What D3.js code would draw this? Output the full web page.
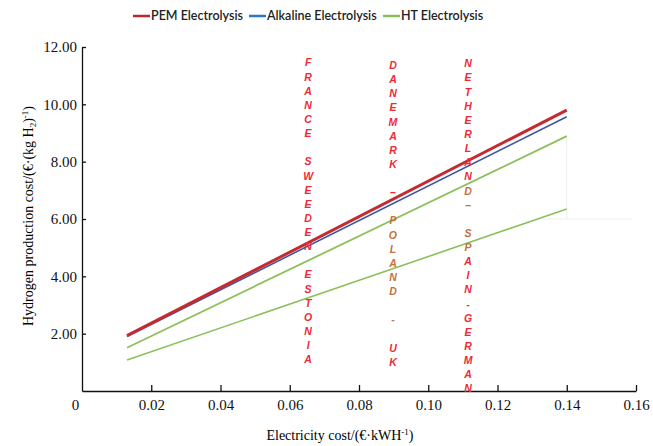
<!DOCTYPE html>
<html>
<head>
<meta charset="utf-8">
<script src="https://cdn.jsdelivr.net/npm/d3@7/dist/d3.min.js"></script>
<style>
body { margin: 0; background: #fff; }
.axis path, .axis line { stroke: #111; stroke-width: 1.3; }
.legend text { font-family: Lato, "Noto Sans", sans-serif; font-size: 12.5px; font-weight: 600; fill: #222; }
.country { font-family: "Liberation Sans", Arial, sans-serif; font-size: 10.5px; font-weight: bold; font-style: italic; }
</style>
</head>
<body>
<svg class="chart"></svg>
<script>
// series names + values
var seriesNames = ["PEM Electrolysis", "Alkaline Electrolysis", "HT Electrolysis"];
var elecCost = [0.013, 0.14];
var pemCost = [1.93, 9.80];
var alkCost = [1.90, 9.57];
var htCostHigh = [1.51, 8.89];
var htCostLow = [1.08, 6.35];

var xTicks = [0, 0.02, 0.04, 0.06, 0.08, 0.10, 0.12, 0.14, 0.16];
var yTicks = [2, 4, 6, 8, 10, 12];

// vertical country labels (x in electricity cost, top in cost units)
var countryX = [0.0653, 0.0898, 0.1115];
var countryTop = [11.46, 11.37, 11.43];
var countryText = ["FRANCE SWEEDEN ESTONIA", "DANEMARK – POLAND - UK", "NETHERLAND– SPAIN-GERMAN"];
var countryTone = ["rrrrrrrrrrrrrrrrrrrrrr", "rrrrrrrrrrrbbbbbbrbrrr", "rrrrrrrrrbbrbbrrrrrrrrrr"];

var width = 653, height = 446;
var letterStep = 14.13;
var serif = "'Liberation Serif', 'Times New Roman', serif";

var chart = d3.select(".chart")
    .attr("width", width)
    .attr("height", height);

var x = d3.scaleLinear().domain([0, 0.16]).range([82, 636]);
var y = d3.scaleLinear().domain([0, 12]).range([391, 47]);

// faint leftover guide lines seen in the original
var g0 = chart.append("g").attr("stroke", "#eeeeee").attr("stroke-width", 1);
g0.append("line").attr("x1", x(0.133)).attr("x2", x(0.159)).attr("y1", y(6)).attr("y2", y(6));
g0.append("line").attr("x1", x(0.14)).attr("x2", x(0.14)).attr("y1", y(6)).attr("y2", y(htCostHigh[1]));

// axes
var xAxis = d3.axisBottom(x)
    .tickValues(xTicks)
    .tickSizeInner(-6)
    .tickSizeOuter(0)
    .tickPadding(8)
    .tickFormat(function(d) { return d === 0 ? "0" : d.toFixed(2); });

var yAxis = d3.axisLeft(y)
    .tickValues(yTicks)
    .tickSizeInner(-4)
    .tickSizeOuter(0)
    .tickPadding(5)
    .tickFormat(function(d) { return d.toFixed(2); });

var gx = chart.append("g")
    .attr("class", "axis")
    .attr("transform", "translate(0," + y(0) + ")")
    .call(xAxis)
    .attr("font-family", serif)
    .attr("font-size", 15);
gx.selectAll(".tick").filter(function(d) { return d === 0; })
    .select("text").attr("x", -7);
gx.selectAll(".tick").filter(function(d) { return d === 0; })
    .select("line").remove();

var gy = chart.append("g")
    .attr("class", "axis")
    .attr("transform", "translate(" + x(0) + ",0)")
    .call(yAxis)
    .attr("font-family", serif)
    .attr("font-size", 15);

chart.selectAll(".tick text")
    .style("font-family", serif)
    .style("font-size", "15px")
    .attr("fill", "#111");

// axis titles
chart.append("text")
    .attr("x", 340)
    .attr("y", 440)
    .attr("text-anchor", "middle")
    .style("font-family", serif)
    .style("font-size", "14px")
    .html("Electricity cost/(€·kWH<tspan dy='-5' font-size='9px'>-1</tspan><tspan dy='5'>)</tspan>");

chart.append("text")
    .attr("transform", "translate(33,216) rotate(-90)")
    .attr("text-anchor", "middle")
    .style("font-family", serif)
    .style("font-size", "14px")
    .html("Hydrogen production cost/(€·(kg H<tspan dy='3' font-size='9px'>2</tspan><tspan dy='-3'>)</tspan><tspan dy='-5' font-size='9px'>-1</tspan><tspan dy='5'>)</tspan>");

// lines
var line = d3.line()
    .x(function(d) { return x(d[0]); })
    .y(function(d) { return y(d[1]); });

function pairs(vals) {
    return elecCost.map(function(c, i) { return [c, vals[i]]; });
}

var lines = [
    { vals: htCostLow, color: "#8dc05b", w: 1.6 },
    { vals: htCostHigh, color: "#8dc05b", w: 1.8 },
    { vals: alkCost, color: "#3c56a0", w: 1.6 },
    { vals: pemCost, color: "#c42a30", w: 3 }
];

chart.selectAll("path.series")
    .data(lines)
    .enter()
    .append("path")
    .attr("class", "series")
    .attr("fill", "none")
    .attr("stroke", function(d) { return d.color; })
    .attr("stroke-width", function(d) { return d.w; })
    .attr("d", function(d) { return line(pairs(d.vals)); });

// country columns
countryText.forEach(function(str, ci) {
    var letters = str.split("").map(function(ch, i) {
        return { ch: ch, i: i, tone: countryTone[ci][i] };
    }).filter(function(d) { return d.ch !== " "; });
    chart.selectAll("text.c" + ci)
        .data(letters)
        .enter()
        .append("text")
        .attr("class", "country c" + ci)
        .attr("x", x(countryX[ci]))
        .attr("y", function(d) { return y(countryTop[ci]) + d.i * letterStep; })
        .attr("text-anchor", "middle")
        .attr("dominant-baseline", "central")
        .attr("fill", function(d) { return d.tone === "b" ? "#c4703e" : "#ee2a36"; })
        .text(function(d) { return d.ch; });
});

// legend
var legendColors = ["#c0272d", "#2f74c4", "#8cbd5a"];
var legendX = [133, 249, 383];
var legend = chart.append("g").attr("class", "legend");
var items = legend.selectAll("g")
    .data(seriesNames)
    .enter()
    .append("g")
    .attr("transform", function(d, i) { return "translate(" + legendX[i] + ",16)"; });
items.append("line")
    .attr("x1", 0).attr("x2", 17)
    .attr("stroke", function(d, i) { return legendColors[i]; })
    .attr("stroke-width", 2.5);
items.append("text")
    .attr("x", 18)
    .attr("dy", "0.35em")
    .text(function(d) { return d; });
</script>
</body>
</html>
